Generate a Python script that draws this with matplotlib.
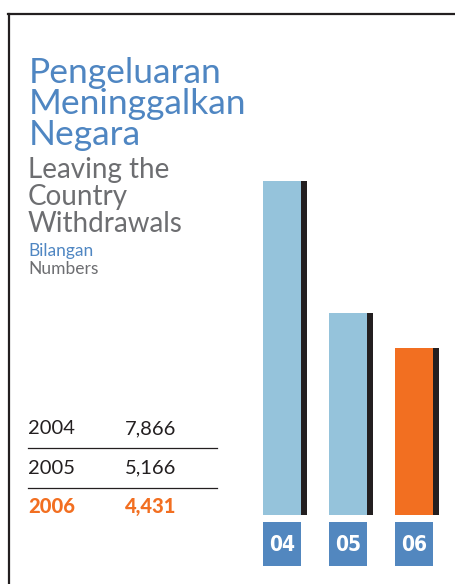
import matplotlib
matplotlib.use("Agg")
import matplotlib.pyplot as plt
from matplotlib.lines import Line2D

# data
tahun = ["2004", "2005", "2006"]
label_bar = ["04", "05", "06"]
nilai = [7866, 5166, 4431]
nilai_teks = ["7,866", "5,166", "4,431"]

W, H = 456, 584
biru = "#4f86c2"
kelabu = "#6d6e71"
oren = "#f26f21"
biru_muda = "#95c3db"
gelap = "#231f20"
kotak = "#5287bf"
fon = "Lato"

fig = plt.figure(figsize=(W / 100, H / 100), dpi=100)

def px(x, y):
    return x / W, 1 - y / H

# bingkai
fig.add_artist(Line2D([px(8, 0)[0], 1], [px(0, 14)[1]] * 2, color=gelap, lw=1.6))
fig.add_artist(Line2D([px(9, 0)[0]] * 2, [px(0, 14)[1], 0], color=gelap, lw=1.6))

# tajuk
for i, t in enumerate(["Pengeluaran", "Meninggalkan", "Negara"]):
    fig.text(*px(29, 83 + 31 * i), t, color=biru, fontsize=25.5, family=fon,
             weight="normal", va="baseline")
for i, t in enumerate(["Leaving the", "Country", "Withdrawals"]):
    fig.text(*px(28, 178 + 27 * i), t, color=kelabu, fontsize=20, family=fon,
             weight="normal", va="baseline")
fig.text(*px(28, 256), "Bilangan", color=biru, fontsize=12.5, family=fon, va="baseline")
fig.text(*px(28, 274), "Numbers", color=kelabu, fontsize=12.5, family=fon, va="baseline")

# jadual
for i, (t, v) in enumerate(zip(tahun, nilai_teks)):
    y = 434 + 39.5 * i
    if i == len(tahun) - 1:
        kw = dict(color=oren, weight="black")
    else:
        kw = dict(color=gelap, weight="normal")
    fig.text(*px(28, y), t, fontsize=14.5, family=fon, va="baseline", **kw)
    fig.text(*px(125, y), v, fontsize=14.5, family=fon, va="baseline", **kw)
for y in [448, 488]:
    fig.add_artist(Line2D([px(28, 0)[0], px(217, 0)[0]], [px(0, y)[1]] * 2,
                          color=gelap, lw=0.9))

# carta bar
x = list(range(len(nilai)))
ax = fig.add_axes([px(230, 0)[0], 1 - 515 / H, (456 - 230) / W, (515 - 170) / H])
warna = [biru_muda, biru_muda, oren]
ax.bar(x, nilai, width=38 / 66, color=warna, bottom=0)
ax.bar([i + 19 / 66 + 3 / 66 for i in x], nilai, width=6 / 66, color=gelap)
ax.set_xlim(-52 / 66, 174 / 66)
ax.set_ylim(1000, 8100)
ax.axis("off")

ax2 = fig.add_axes([px(230, 0)[0], 1 - 566 / H, (456 - 230) / W, 44 / H])
ax2.bar(x, [1] * len(x), width=38 / 66, color=kotak)
for i, lb in zip(x, label_bar):
    ax2.text(i, 0.47, lb, color="white", fontsize=15, weight="bold",
             family=["DejaVu Sans"], stretch="condensed", ha="center", va="center")
ax2.set_xlim(-52 / 66, 174 / 66)
ax2.set_ylim(0, 1)
ax2.axis("off")

fig.savefig("out.png", dpi=100)
